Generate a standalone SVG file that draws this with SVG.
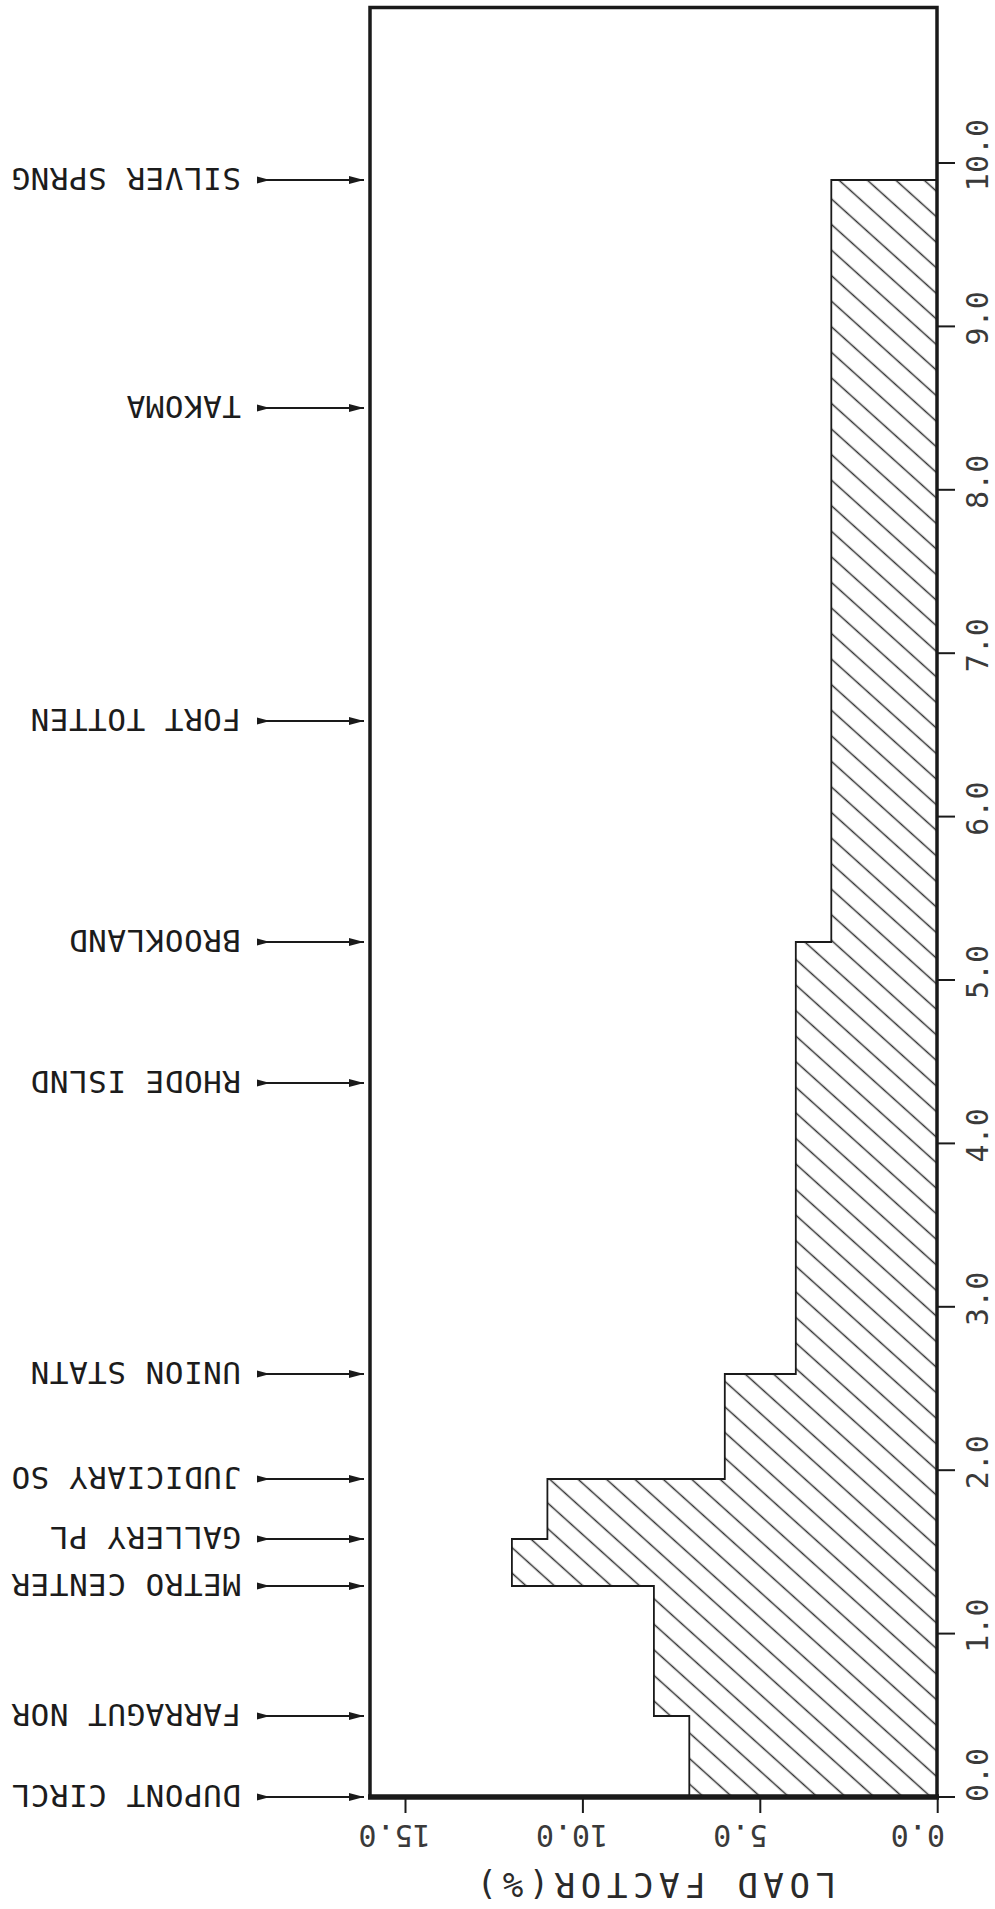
<svg xmlns="http://www.w3.org/2000/svg" width="995" height="1909" viewBox="0 0 995 1909">
<style>
.st{font-family:"DejaVu Sans Mono","Liberation Mono",monospace;font-size:31px;letter-spacing:0.5px;fill:#1c1c1c}
.tk{font-family:"DejaVu Sans Mono","Liberation Mono",monospace;font-size:30px;fill:#3a3a3a}
.ttl{font-family:"DejaVu Sans Mono","Liberation Mono",monospace;font-size:34px;letter-spacing:5.6px;fill:#2a2a2a}
.ar{stroke:#1a1a1a;stroke-width:2;fill:none}
.tick{stroke:#1a1a1a;stroke-width:2;fill:none}
</style>
<defs>
<marker id="head" markerUnits="userSpaceOnUse" markerWidth="16" markerHeight="10" refX="15" refY="5" orient="auto"><path d="M0,1 L15,5 L0,9 Z" fill="#1a1a1a"/></marker>
<marker id="tail" markerUnits="userSpaceOnUse" markerWidth="14" markerHeight="10" refX="0" refY="5" orient="auto"><path d="M0,1.5 L13,5 L0,8.5 Z" fill="#1a1a1a"/></marker>
<pattern id="hatch" patternUnits="userSpaceOnUse" width="40" height="19" patternTransform="rotate(42)"><line x1="-1" y1="9.5" x2="41" y2="9.5" stroke="#333" stroke-width="1.4"/></pattern>
</defs>
<rect width="995" height="1909" fill="#fff"/>

<g id="histogram">
<path d="M937,1797 L937,180 L831.3,180 L831.3,942 L795.8,942 L795.8,1374 L724.8,1374 L724.8,1479 L547.4,1479 L547.4,1539 L511.9,1539 L511.9,1586 L653.9,1586 L653.9,1716 L689.3,1716 L689.3,1797 Z" fill="url(#hatch)" stroke="#1a1a1a" stroke-width="1.8"/>
</g>

<g id="frame">
<rect x="370" y="7.5" width="567" height="1789.5" fill="none" stroke="#1a1a1a" stroke-width="3.5"/>
<line x1="368" y1="1797" x2="939" y2="1797" stroke="#1a1a1a" stroke-width="5.5"/>
</g>

<g id="y-axis">
<g class="tick">
<line x1="937" y1="1797" x2="955" y2="1797"/>
<line x1="937" y1="1633.6" x2="955" y2="1633.6"/>
<line x1="937" y1="1470.2" x2="955" y2="1470.2"/>
<line x1="937" y1="1306.8" x2="955" y2="1306.8"/>
<line x1="937" y1="1143.4" x2="955" y2="1143.4"/>
<line x1="937" y1="980" x2="955" y2="980"/>
<line x1="937" y1="816.6" x2="955" y2="816.6"/>
<line x1="937" y1="653.2" x2="955" y2="653.2"/>
<line x1="937" y1="489.8" x2="955" y2="489.8"/>
<line x1="937" y1="326.4" x2="955" y2="326.4"/>
<line x1="937" y1="163" x2="955" y2="163"/>
</g>
<text class="tk" x="988" y="1775" text-anchor="middle" transform="rotate(-90 988 1775)">0.0</text>
<text class="tk" x="988" y="1625.6" text-anchor="middle" transform="rotate(-90 988 1625.6)">1.0</text>
<text class="tk" x="988" y="1462.2" text-anchor="middle" transform="rotate(-90 988 1462.2)">2.0</text>
<text class="tk" x="988" y="1298.8" text-anchor="middle" transform="rotate(-90 988 1298.8)">3.0</text>
<text class="tk" x="988" y="1135.4" text-anchor="middle" transform="rotate(-90 988 1135.4)">4.0</text>
<text class="tk" x="988" y="972" text-anchor="middle" transform="rotate(-90 988 972)">5.0</text>
<text class="tk" x="988" y="808.6" text-anchor="middle" transform="rotate(-90 988 808.6)">6.0</text>
<text class="tk" x="988" y="645.2" text-anchor="middle" transform="rotate(-90 988 645.2)">7.0</text>
<text class="tk" x="988" y="481.8" text-anchor="middle" transform="rotate(-90 988 481.8)">8.0</text>
<text class="tk" x="988" y="318.4" text-anchor="middle" transform="rotate(-90 988 318.4)">9.0</text>
<text class="tk" x="988" y="155" text-anchor="middle" transform="rotate(-90 988 155)">10.0</text>
</g>

<g id="x-axis">
<g class="tick">
<line x1="937.7" y1="1797" x2="937.7" y2="1813"/>
<line x1="760.3" y1="1797" x2="760.3" y2="1813"/>
<line x1="582.9" y1="1797" x2="582.9" y2="1813"/>
<line x1="405.5" y1="1797" x2="405.5" y2="1813"/>
</g>
<text class="tk" x="890.7" y="1825" text-anchor="end" transform="rotate(180 890.7 1825)">0.0</text>
<text class="tk" x="713.3" y="1825" text-anchor="end" transform="rotate(180 713.3 1825)">5.0</text>
<text class="tk" x="535.9" y="1825" text-anchor="end" transform="rotate(180 535.9 1825)">10.0</text>
<text class="tk" x="358.5" y="1825" text-anchor="end" transform="rotate(180 358.5 1825)">15.0</text>
<text class="ttl" x="836" y="1873" transform="rotate(180 836 1873)">LOAD FACTOR(%)</text>
</g>

<g id="connectors">
<line class="ar" x1="257" y1="180" x2="364" y2="180" marker-start="url(#tail)" marker-end="url(#head)"/>
<line class="ar" x1="257" y1="408" x2="364" y2="408" marker-start="url(#tail)" marker-end="url(#head)"/>
<line class="ar" x1="257" y1="721" x2="364" y2="721" marker-start="url(#tail)" marker-end="url(#head)"/>
<line class="ar" x1="257" y1="942" x2="364" y2="942" marker-start="url(#tail)" marker-end="url(#head)"/>
<line class="ar" x1="257" y1="1083" x2="364" y2="1083" marker-start="url(#tail)" marker-end="url(#head)"/>
<line class="ar" x1="257" y1="1374" x2="364" y2="1374" marker-start="url(#tail)" marker-end="url(#head)"/>
<line class="ar" x1="257" y1="1479" x2="364" y2="1479" marker-start="url(#tail)" marker-end="url(#head)"/>
<line class="ar" x1="257" y1="1539" x2="364" y2="1539" marker-start="url(#tail)" marker-end="url(#head)"/>
<line class="ar" x1="257" y1="1586" x2="364" y2="1586" marker-start="url(#tail)" marker-end="url(#head)"/>
<line class="ar" x1="257" y1="1716" x2="364" y2="1716" marker-start="url(#tail)" marker-end="url(#head)"/>
<line class="ar" x1="257" y1="1797" x2="364" y2="1797" marker-start="url(#tail)" marker-end="url(#head)"/>
</g>

<g id="silver-spring"><text class="st" x="241" y="168" transform="rotate(180 241 168)">SILVER SPRNG</text></g>
<g id="takoma"><text class="st" x="241" y="396" transform="rotate(180 241 396)">TAKOMA</text></g>
<g id="fort-totten"><text class="st" x="241" y="709" transform="rotate(180 241 709)">FORT TOTTEN</text></g>
<g id="brookland"><text class="st" x="241" y="930" transform="rotate(180 241 930)">BROOKLAND</text></g>
<g id="rhode-island"><text class="st" x="241" y="1071" transform="rotate(180 241 1071)">RHODE ISLND</text></g>
<g id="union-station"><text class="st" x="241" y="1362" transform="rotate(180 241 1362)">UNION STATN</text></g>
<g id="judiciary-sq"><text class="st" x="241" y="1467" transform="rotate(180 241 1467)">JUDICIARY SO</text></g>
<g id="gallery-pl"><text class="st" x="241" y="1527" transform="rotate(180 241 1527)">GALLERY PL</text></g>
<g id="metro-center"><text class="st" x="241" y="1574" transform="rotate(180 241 1574)">METRO CENTER</text></g>
<g id="farragut-nor"><text class="st" x="241" y="1704" transform="rotate(180 241 1704)">FARRAGUT NOR</text></g>
<g id="dupont-circl"><text class="st" x="241" y="1785" transform="rotate(180 241 1785)">DUPONT CIRCL</text></g>
</svg>
